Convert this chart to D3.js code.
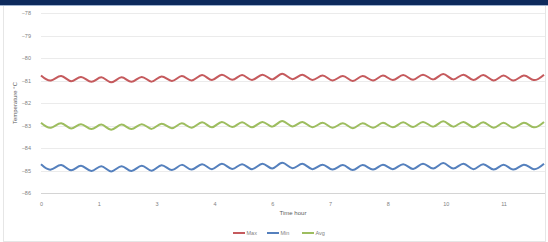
<!DOCTYPE html>
<html>
<head>
<meta charset="utf-8">
<script src="https://cdn.jsdelivr.net/npm/d3@7"></script>
<style>
  body { margin: 0; background: #fff; }
  svg { display: block; font-family: "Liberation Sans", Arial, sans-serif; }
</style>
</head>
<body>
<div id="chart"></div>
<script>
// sample times (hours)
var hours = [0, 0.24, 0.49, 0.73, 0.97, 1.22, 1.46, 1.70, 1.95, 2.19, 2.44, 2.68, 2.92, 3.17, 3.41, 3.65,
  3.90, 4.14, 4.38, 4.63, 4.87, 5.11, 5.36, 5.60, 5.84, 6.09, 6.33, 6.57, 6.82, 7.06, 7.31, 7.55, 7.79,
  8.04, 8.28, 8.52, 8.77, 9.01, 9.25, 9.50, 9.74, 9.98, 10.23, 10.47, 10.71, 10.96, 11.20, 11.44, 11.69,
  11.93, 12.18];

var maxTemp = [-80.78, -81.00, -80.80, -81.03, -80.84, -81.06, -80.86, -81.08, -80.86, -81.06, -80.84,
  -81.05, -80.82, -81.02, -80.80, -81.00, -80.76, -80.98, -80.74, -80.97, -80.76, -80.98, -80.74, -80.95,
  -80.70, -80.94, -80.74, -80.98, -80.78, -81.00, -80.80, -81.02, -80.80, -81.00, -80.78, -80.98, -80.76,
  -80.97, -80.74, -80.95, -80.71, -80.95, -80.74, -80.98, -80.76, -81.00, -80.78, -81.00, -80.78, -80.98,
  -80.74];

var minTemp = [-84.72, -84.96, -84.76, -84.99, -84.79, -85.02, -84.81, -85.04, -84.81, -85.02, -84.79,
  -85.01, -84.77, -84.98, -84.75, -84.96, -84.72, -84.94, -84.70, -84.93, -84.72, -84.94, -84.70, -84.91,
  -84.66, -84.90, -84.70, -84.94, -84.74, -84.96, -84.76, -84.98, -84.76, -84.96, -84.74, -84.94, -84.72,
  -84.93, -84.70, -84.91, -84.67, -84.91, -84.70, -84.94, -84.72, -84.96, -84.74, -84.96, -84.74, -84.94,
  -84.70];

var avgTemp = [-82.88, -83.10, -82.90, -83.13, -82.94, -83.16, -82.96, -83.19, -82.96, -83.16, -82.94,
  -83.15, -82.92, -83.12, -82.90, -83.10, -82.86, -83.08, -82.84, -83.07, -82.86, -83.08, -82.84, -83.05,
  -82.80, -83.04, -82.84, -83.08, -82.88, -83.10, -82.90, -83.12, -82.90, -83.10, -82.88, -83.08, -82.86,
  -83.07, -82.84, -83.05, -82.81, -83.05, -82.84, -83.08, -82.86, -83.10, -82.88, -83.10, -82.88, -83.08,
  -82.84];

var yTicks = [-78, -79, -80, -81, -82, -83, -84, -85, -86];
var xTickHours = [0, 1.4, 2.8, 4.2, 5.6, 7.0, 8.4, 9.8, 11.2];
var xTickLabels = ["0", "1", "3", "4", "6", "7", "8", "10", "11"];

var series = [
  { name: "Max", values: maxTemp, color: "#c55a5d" },
  { name: "Min", values: minTemp, color: "#5580bd" },
  { name: "Avg", values: avgTemp, color: "#9dbd5f" }
];

var W = 548, H = 242;
var margin = { top: 13, right: 3, bottom: 49, left: 41 };

var svg = d3.select("#chart").append("svg")
  .attr("width", W)
  .attr("height", H);

// frame + top band
svg.append("rect")
  .attr("x", 3.5).attr("y", 5.5)
  .attr("width", W - 6).attr("height", H - 6)
  .attr("fill", "#fff")
  .attr("stroke", "#e6e6e6");
svg.append("rect")
  .attr("x", 0).attr("y", 0)
  .attr("width", W).attr("height", 5)
  .attr("fill", "#0d2a5c");
svg.append("rect")
  .attr("x", 0).attr("y", 5)
  .attr("width", W).attr("height", 1)
  .attr("fill", "#9fb3cf");

var x = d3.scaleLinear()
  .domain([0, 12.18])
  .range([margin.left, W - margin.right - 1]);
var y = d3.scaleLinear()
  .domain([-86, -78])
  .range([H - margin.bottom, margin.top]);

// gridlines
svg.append("g")
  .selectAll("line")
  .data(yTicks)
  .join("line")
    .attr("x1", margin.left)
    .attr("x2", W - margin.right)
    .attr("y1", d => Math.round(y(d)) + 0.5)
    .attr("y2", d => Math.round(y(d)) + 0.5)
    .attr("stroke", d => d === -86 ? "#d4d4d4" : "#ebebeb")
    .attr("stroke-width", 1);

// y labels
var yAxis = svg.append("g")
  .attr("transform", "translate(" + (margin.left - 7) + ",0)")
  .call(d3.axisLeft(y).tickValues(yTicks).tickSize(0).tickFormat(d3.format("d")));
yAxis.select(".domain").remove();
yAxis.selectAll("text")
  .attr("fill", "#7f7f7f")
  .style("font-size", "5.5px");

// x labels
var xAxis = svg.append("g")
  .attr("transform", "translate(0," + (H - margin.bottom + 6) + ")")
  .call(d3.axisBottom(x).tickValues(xTickHours).tickSize(0)
    .tickFormat((d, i) => xTickLabels[i]));
xAxis.select(".domain").remove();
xAxis.selectAll("text")
  .attr("fill", "#7f7f7f")
  .style("font-size", "5.5px");

// axis titles
svg.append("text")
  .attr("transform", "translate(17," + ((margin.top + H - margin.bottom) / 2) + ") rotate(-90)")
  .attr("text-anchor", "middle")
  .attr("fill", "#595959")
  .style("font-size", "6px")
  .text("Temperature °C");

svg.append("text")
  .attr("x", (margin.left + W - margin.right) / 2)
  .attr("y", 215)
  .attr("text-anchor", "middle")
  .attr("fill", "#595959")
  .style("font-size", "6px")
  .text("Time hour");

// lines
var line = d3.line()
  .x((d, i) => x(hours[i]))
  .y(d => y(d))
  .curve(d3.curveNatural);

svg.append("g")
  .selectAll("path")
  .data(series)
  .join("path")
    .attr("d", d => line(d.values))
    .attr("fill", "none")
    .attr("stroke", d => d.color)
    .attr("stroke-width", 2);

// legend
var legendX = [233, 267, 302];
var legend = svg.append("g")
  .selectAll("g")
  .data(series)
  .join("g")
    .attr("transform", (d, i) => "translate(" + legendX[i] + ",233)");
legend.append("line")
  .attr("x1", 0).attr("x2", 12)
  .attr("stroke", d => d.color)
  .attr("stroke-width", 2);
legend.append("text")
  .attr("x", 13.5)
  .attr("dy", "0.35em")
  .attr("fill", "#7f7f7f")
  .style("font-size", "5.5px")
  .text(d => d.name);
</script>
</body>
</html>
